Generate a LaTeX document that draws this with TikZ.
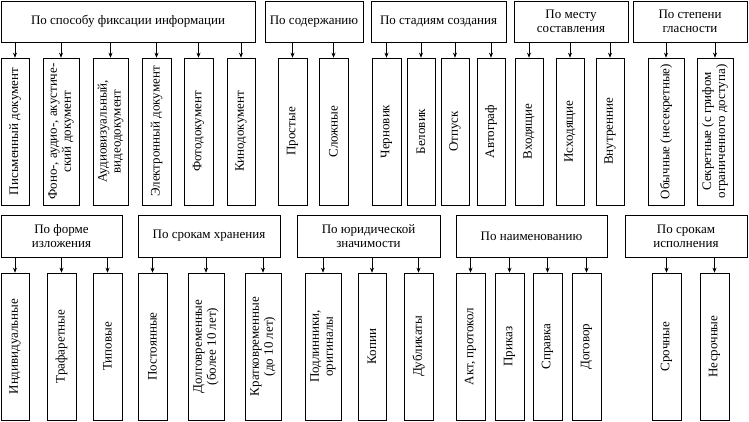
\documentclass[tikz,border=0pt]{standalone}
\usepackage{fontspec}
\setmainfont{Liberation Serif}
\usetikzlibrary{arrows.meta}
\tikzset{
  hdr/.style={draw,line width=0.6pt,inner sep=1pt,align=center,font=\fontsize{13}{14}\selectfont},
  leaf/.style={draw,line width=0.6pt,inner sep=1pt,align=center,rotate=90,font=\fontsize{13}{14}\selectfont},
  arr/.style={line width=0.6pt,-{Stealth[length=5pt,width=4pt]}}
}
% header: name, x1, x2, y1, y2, text
\newcommand\mkhdr[6]{\node[hdr,minimum width={#3-#2},minimum height={#5-#4}] (#1) at ({(#2+#3)/2},{(#4+#5)/2}) {#6};}
% leaf: name, header, x1, x2, y1, y2, text
\newcommand\mkleaf[7]{\node[leaf,minimum width={#6-#5},minimum height={#4-#3}] (#1) at ({(#3+#4)/2},{(#5+#6)/2}) {#7};
  \draw[arr] (#2.south -| #1) -- (#1.east);}
\begin{document}
\begin{tikzpicture}[x=1pt,y=-1pt]
\useasboundingbox[fill=white] (0,0) rectangle (749,421);
% top row
\mkhdr{h1}{1}{255}{1}{42}{По способу фиксации информации}
\mkhdr{h2}{265}{363}{1}{42}{По содержанию}
\mkhdr{h3}{371}{506}{1}{42}{По стадиям создания}
\mkhdr{h4}{514}{628}{1}{42}{По месту\\составления}
\mkhdr{h5}{633}{747}{1}{42}{По степени\\гласности}
\mkleaf{a1}{h1}{1}{29}{58}{205}{Письменный документ}
\mkleaf{a2}{h1}{43}{79}{58}{205}{Фоно-, аудио-, акустиче-\\ский документ}
\mkleaf{a3}{h1}{93}{128}{58}{205}{Аудиовизуальный,\\видеодокумент}
\mkleaf{a4}{h1}{142}{171}{58}{205}{Электронный документ}
\mkleaf{a5}{h1}{184}{213}{58}{205}{Фотодокумент}
\mkleaf{a6}{h1}{227}{255}{58}{205}{Кинодокумент}
\mkleaf{b1}{h2}{278}{307}{58}{205}{Простые}
\mkleaf{b2}{h2}{319}{348}{58}{205}{Сложные}
\mkleaf{c1}{h3}{372}{401}{58}{205}{Черновик}
\mkleaf{c2}{h3}{407}{435}{58}{205}{Беловик}
\mkleaf{c3}{h3}{441}{469}{58}{205}{Отпуск}
\mkleaf{c4}{h3}{477}{505}{58}{205}{Автограф}
\mkleaf{d1}{h4}{515}{543}{58}{205}{Входящие}
\mkleaf{d2}{h4}{556}{584}{58}{205}{Исходящие}
\mkleaf{d3}{h4}{596}{624}{58}{205}{Внутренние}
\mkleaf{e1}{h5}{648}{684}{58}{205}{Обычные (несекретные)}
\mkleaf{e2}{h5}{697}{733}{58}{205}{Секретные (с грифом\\ограниченного доступа)}
% bottom row
\mkhdr{g1}{1}{122}{215}{257}{По форме\\изложения}
\mkhdr{g2}{138}{280}{215}{257}{По срокам хранения}
\mkhdr{g3}{297}{440}{215}{257}{По юридической\\значимости}
\mkhdr{g4}{456}{607}{215}{257}{По наименованию}
\mkhdr{g5}{625}{747}{215}{257}{По срокам\\исполнения}
\mkleaf{f1}{g1}{1}{29}{273}{420}{Индивидуальные}
\mkleaf{f2}{g1}{47}{76}{273}{420}{Трафаретные}
\mkleaf{f3}{g1}{93}{122}{273}{420}{Типовые}
\mkleaf{k1}{g2}{138}{167}{273}{420}{Постоянные}
\mkleaf{k2}{g2}{188}{224}{273}{420}{Долговременные\\(более 10 лет)}
\mkleaf{k3}{g2}{245}{281}{273}{420}{Кратковременные\\(до 10 лет)}
\mkleaf{m1}{g3}{305}{341}{273}{420}{Подлинники,\\оригиналы}
\mkleaf{m2}{g3}{358}{386}{273}{420}{Копии}
\mkleaf{m3}{g3}{404}{433}{273}{420}{Дубликаты}
\mkleaf{n1}{g4}{456}{485}{273}{420}{Акт, протокол}
\mkleaf{n2}{g4}{495}{524}{273}{420}{Приказ}
\mkleaf{n3}{g4}{533}{562}{273}{420}{Справка}
\mkleaf{n4}{g4}{572}{601}{273}{420}{Договор}
\mkleaf{p1}{g5}{652}{681}{273}{420}{Срочные}
\mkleaf{p2}{g5}{700}{729}{273}{420}{Несрочные}
\end{tikzpicture}
\end{document}
